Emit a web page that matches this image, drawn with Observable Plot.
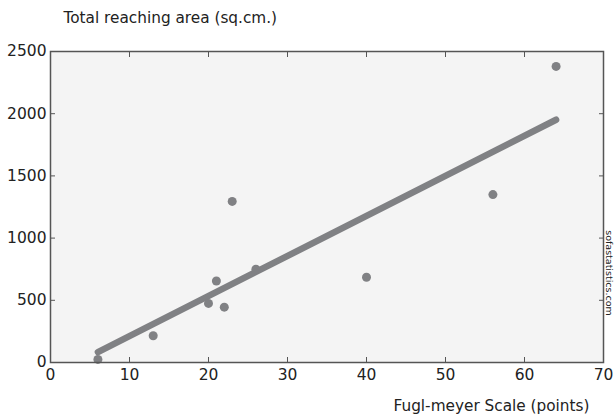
<!DOCTYPE html>
<html>
<head>
<meta charset="utf-8">
<script src="https://cdn.jsdelivr.net/npm/d3@7"></script>
<script src="https://cdn.jsdelivr.net/npm/@observablehq/plot@0.6"></script>
<style>
  html, body { margin: 0; padding: 0; background: #fff; }
</style>
</head>
<body>
<div id="chart"></div>
<script>
const fuglMeyer = [6, 13, 20, 21, 22, 23, 26, 40, 56, 64];
const reachArea = [25, 215, 475, 655, 445, 1295, 750, 685, 1350, 2380];
const xTicks = [0, 10, 20, 30, 40, 50, 60, 70];
const yTicks = [0, 500, 1000, 1500, 2000, 2500];
const titleText = "Total reaching area (sq.cm.)";
const xLabelText = "Fugl-meyer Scale (points)";
const watermark = "sofastatistics.com";

const data = fuglMeyer.map((x, i) => ({x, y: reachArea[i]}));
const grey = "#808184";
const axisColor = "#555";
const font = "'DejaVu Sans', Verdana, sans-serif";

const chart = Plot.plot({
  width: 614,
  height: 416,
  marginLeft: 50,
  marginRight: 11,
  marginTop: 51,
  marginBottom: 54,
  style: {fontFamily: font, fontSize: "15px", color: "#222", background: "#fff"},
  x: {domain: [0, 70]},
  y: {domain: [0, 2500]},
  marks: [
    Plot.frame({fill: "#f4f4f4", stroke: null}),
    Plot.linearRegressionY(data, {x: "x", y: "y", ci: 0, stroke: grey, strokeWidth: 6.5}),
    Plot.dot(data, {x: "x", y: "y", r: 4.5, fill: grey, stroke: null}),
    // inward ticks on all four sides
    Plot.axisX(xTicks, {anchor: "bottom", tickSize: -5, tickFormat: () => "", label: null, stroke: axisColor, strokeWidth: 1}),
    Plot.axisX(xTicks, {anchor: "top", tickSize: -5, tickFormat: () => "", label: null, stroke: axisColor, strokeWidth: 1}),
    Plot.axisY(yTicks, {anchor: "left", tickSize: -5, tickFormat: () => "", label: null, stroke: axisColor, strokeWidth: 1}),
    Plot.axisY(yTicks, {anchor: "right", tickSize: -5, tickFormat: () => "", label: null, stroke: axisColor, strokeWidth: 1}),
    // tick labels
    Plot.axisX(xTicks, {anchor: "bottom", tickSize: 0, tickPadding: 6, label: null, tickFormat: d3.format("d"), fontSize: 15.5, fill: "#222"}),
    Plot.axisY(yTicks, {anchor: "left", tickSize: 0, tickPadding: 4, label: null, tickFormat: d3.format("d"), fontSize: 15.5, fill: "#222"}),
    Plot.frame({stroke: axisColor, strokeWidth: 1.5, fill: null}),
    Plot.text([titleText], {frameAnchor: "top-left", dx: 13, dy: -33, textAnchor: "start", lineAnchor: "middle", fontSize: 15.3, fill: "#222"}),
    Plot.text([xLabelText], {frameAnchor: "bottom-right", dx: -14, dy: 44, textAnchor: "end", lineAnchor: "middle", fontSize: 15.3, fill: "#222"}),
    Plot.text([watermark], {frameAnchor: "right", dx: 6, dy: 66, rotate: 90, textAnchor: "middle", lineAnchor: "middle", fontSize: 9.5, fill: "#222"})
  ]
});
document.getElementById("chart").appendChild(chart);
</script>
</body>
</html>
